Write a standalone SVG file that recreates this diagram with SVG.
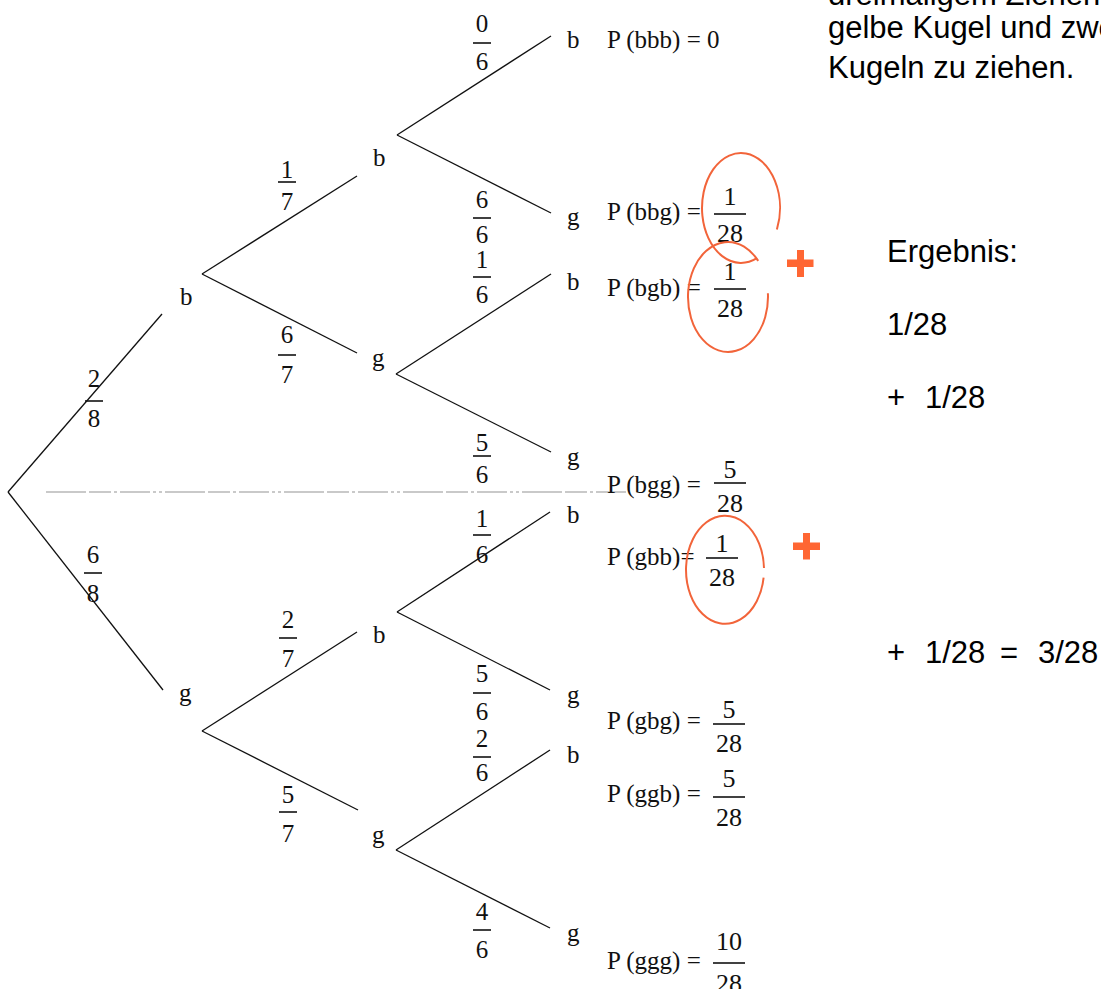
<svg xmlns="http://www.w3.org/2000/svg" width="1101" height="989" viewBox="0 0 1101 989">
  <style>
    .edge { stroke: #111; stroke-width: 1.3; fill: none; }
    .guide { stroke: #b8b8b8; stroke-width: 1.6; stroke-dasharray: 40 3 22 3 3 3 30 3 3 3 3 3; fill: none; }
    .serif { font-family: "Liberation Serif", "DejaVu Serif", serif; fill: #111; }
    .lbl { font-size: 25px; }
    .fr { font-size: 25px; text-anchor: middle; }
    .frp { font-size: 26px; text-anchor: middle; }
    .bar { stroke: #111; stroke-width: 1.6; }
    .sans { font-family: "Liberation Sans", Arial, sans-serif; font-size: 31px; fill: #000; }
    .ring { stroke: #f2643a; stroke-width: 2; fill: none; }
    .plus { fill: #ff6633; }
  </style>

  <!-- task text, cut at the top and right edges -->
  <g id="task-text" class="sans">
    <text x="828" y="5">dreimaligem Ziehen</text>
    <text x="828" y="38">gelbe Kugel und zwei</text>
    <text x="828" y="78">Kugeln zu ziehen.</text>
  </g>

  <!-- connectors: tree branches and the grey guide line -->
  <g id="connectors">
    <line class="guide" x1="46" y1="492" x2="627" y2="492"/>
    <line class="edge" x1="8" y1="492" x2="162" y2="314"/>
    <line class="edge" x1="8" y1="492" x2="163" y2="690"/>
    <line class="edge" x1="202" y1="274" x2="357" y2="176"/>
    <line class="edge" x1="202" y1="274" x2="357" y2="353"/>
    <line class="edge" x1="202" y1="731" x2="357" y2="632"/>
    <line class="edge" x1="202" y1="731" x2="358" y2="810"/>
    <line class="edge" x1="397" y1="135" x2="551" y2="36"/>
    <line class="edge" x1="397" y1="135" x2="551" y2="213"/>
    <line class="edge" x1="396" y1="374" x2="551" y2="274"/>
    <line class="edge" x1="396" y1="374" x2="551" y2="452"/>
    <line class="edge" x1="397" y1="612" x2="550" y2="512"/>
    <line class="edge" x1="397" y1="612" x2="550" y2="690"/>
    <line class="edge" x1="396" y1="850" x2="550" y2="750"/>
    <line class="edge" x1="396" y1="850" x2="550" y2="928"/>
  </g>

  <!-- branch probabilities -->
  <g id="edge-labels" class="serif fr">
    <g><text x="94" y="387">2</text><line class="bar" x1="85" y1="401" x2="103" y2="401"/><text x="94" y="427">8</text></g>
    <g><text x="93" y="563">6</text><line class="bar" x1="84" y1="573" x2="102" y2="573"/><text x="93" y="602">8</text></g>
    <g><text x="287" y="178">1</text><line class="bar" x1="278" y1="182" x2="296" y2="182"/><text x="287" y="210">7</text></g>
    <g><text x="287" y="343">6</text><line class="bar" x1="278" y1="355" x2="296" y2="355"/><text x="287" y="383">7</text></g>
    <g><text x="288" y="628">2</text><line class="bar" x1="279" y1="638" x2="297" y2="638"/><text x="288" y="667">7</text></g>
    <g><text x="288" y="803">5</text><line class="bar" x1="279" y1="812" x2="297" y2="812"/><text x="288" y="842">7</text></g>
    <g><text x="482" y="32">0</text><line class="bar" x1="473" y1="43" x2="491" y2="43"/><text x="482" y="70">6</text></g>
    <g><text x="482" y="208">6</text><line class="bar" x1="473" y1="218" x2="491" y2="218"/><text x="482" y="243">6</text></g>
    <g><text x="482" y="268">1</text><line class="bar" x1="473" y1="277" x2="491" y2="277"/><text x="482" y="303">6</text></g>
    <g><text x="482" y="451">5</text><line class="bar" x1="473" y1="456" x2="491" y2="456"/><text x="482" y="483">6</text></g>
    <g><text x="482" y="527">1</text><line class="bar" x1="473" y1="535" x2="491" y2="535"/><text x="482" y="563">6</text></g>
    <g><text x="482" y="682">5</text><line class="bar" x1="473" y1="693" x2="491" y2="693"/><text x="482" y="720">6</text></g>
    <g><text x="482" y="747">2</text><line class="bar" x1="473" y1="757" x2="491" y2="757"/><text x="482" y="781">6</text></g>
    <g><text x="482" y="920">4</text><line class="bar" x1="473" y1="930" x2="491" y2="930"/><text x="482" y="958">6</text></g>
  </g>

  <!-- outcome nodes -->
  <g id="n-b" class="serif lbl"><text x="180" y="305">b</text></g>
  <g id="n-g" class="serif lbl"><text x="179" y="701">g</text></g>
  <g id="n-bb" class="serif lbl"><text x="373" y="166">b</text></g>
  <g id="n-bg" class="serif lbl"><text x="372" y="366">g</text></g>
  <g id="n-gb" class="serif lbl"><text x="373" y="643">b</text></g>
  <g id="n-gg" class="serif lbl"><text x="372" y="843">g</text></g>

  <g id="n-bbb" class="serif"><text class="lbl" x="567" y="48">b</text><text class="lbl" x="607" y="48">P (bbb) = 0</text></g>
  <g id="n-bbg" class="serif">
    <text class="lbl" x="567" y="225">g</text><text class="lbl" x="607" y="220">P (bbg) =</text>
    <text class="frp" x="730" y="205">1</text><line class="bar" x1="714" y1="214" x2="746" y2="214"/><text class="frp" x="730" y="242">28</text>
  </g>
  <g id="n-bgb" class="serif">
    <text class="lbl" x="567" y="290">b</text><text class="lbl" x="607" y="296">P (bgb) =</text>
    <text class="frp" x="730" y="280">1</text><line class="bar" x1="714" y1="289" x2="746" y2="289"/><text class="frp" x="730" y="317">28</text>
  </g>
  <g id="n-bgg" class="serif">
    <text class="lbl" x="567" y="465">g</text><text class="lbl" x="607" y="493">P (bgg) =</text>
    <text class="frp" x="730" y="478">5</text><line class="bar" x1="714" y1="483" x2="746" y2="483"/><text class="frp" x="730" y="512">28</text>
  </g>
  <g id="n-gbb" class="serif">
    <text class="lbl" x="567" y="523">b</text><text class="lbl" x="607" y="565">P (gbb)=</text>
    <text class="frp" x="722" y="552">1</text><line class="bar" x1="706" y1="558" x2="738" y2="558"/><text class="frp" x="722" y="586">28</text>
  </g>
  <g id="n-gbg" class="serif">
    <text class="lbl" x="567" y="703">g</text><text class="lbl" x="607" y="729">P (gbg) =</text>
    <text class="frp" x="729" y="718">5</text><line class="bar" x1="713" y1="724" x2="745" y2="724"/><text class="frp" x="729" y="752">28</text>
  </g>
  <g id="n-ggb" class="serif">
    <text class="lbl" x="567" y="763">b</text><text class="lbl" x="607" y="802">P (ggb) =</text>
    <text class="frp" x="729" y="787">5</text><line class="bar" x1="713" y1="797" x2="745" y2="797"/><text class="frp" x="729" y="826">28</text>
  </g>
  <g id="n-ggg" class="serif">
    <text class="lbl" x="567" y="941">g</text><text class="lbl" x="607" y="969">P (ggg) =</text>
    <text class="frp" x="729" y="950">10</text><line class="bar" x1="713" y1="963" x2="745" y2="963"/><text class="frp" x="729" y="992">28</text>
  </g>

  <!-- hand-drawn highlights -->
  <g id="marks">
    <path class="ring" d="M 756.9 258.2 A 39 55 0 1 1 776.9 229.5"/>
    <path class="ring" d="M 767.9 293.2 A 40 55 0 1 1 758.2 260.9"/>
    <path class="ring" d="M 763.6 577.7 A 39 54 0 1 1 764 568.1"/>
    <path class="plus" d="M 797 250 h 7 v 9.5 h 9.5 v 7.5 h -9.5 v 10 h -7 v -10 h -10 v -7.5 h 10 z"/>
    <path class="plus" d="M 803 533 h 7 v 9.5 h 10 v 7.5 h -10 v 9.5 h -7 v -9.5 h -10 v -7.5 h 10 z"/>
  </g>

  <!-- result column -->
  <g id="result" class="sans">
    <text x="887" y="262">Ergebnis:</text>
    <text x="887" y="335">1/28</text>
    <text y="408"><tspan x="887">+</tspan><tspan x="925">1/28</tspan></text>
    <text y="663"><tspan x="887">+</tspan><tspan x="925">1/28</tspan><tspan x="1000">=</tspan><tspan x="1038">3/28</tspan></text>
  </g>
</svg>
